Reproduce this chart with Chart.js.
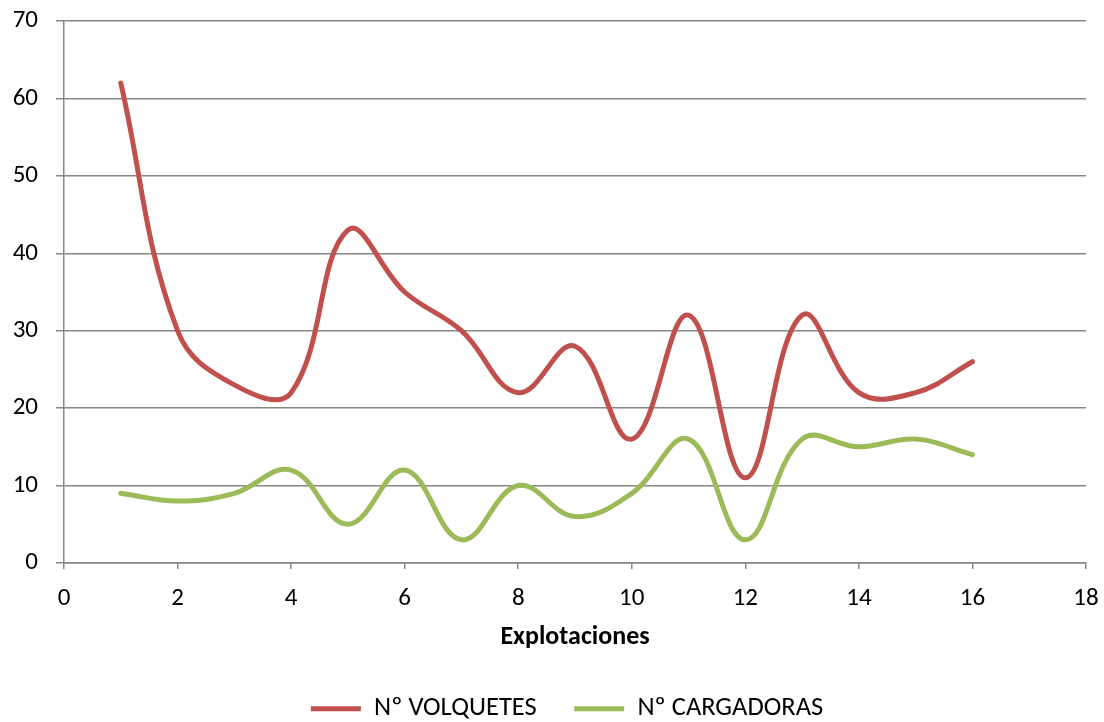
<!DOCTYPE html>
<html>
<head>
<meta charset="utf-8">
<script src="https://cdn.jsdelivr.net/npm/chart.js@4/dist/chart.umd.min.js"></script>
<style>
  html, body { margin: 0; padding: 0; background: #ffffff; }
  #wrap { width: 1104px; height: 722px; }
</style>
</head>
<body>
<div id="wrap"><canvas id="chart" width="1104" height="722"></canvas></div>
<script>
// Number of the explotación (x) and machinery counts per site
const explotaciones = [1, 2, 3, 4, 5, 6, 7, 8, 9, 10, 11, 12, 13, 14, 15, 16];
const volquetes     = [62, 30, 23, 22, 43, 35, 30, 22, 28, 16, 32, 11, 32, 22, 22, 26];
const cargadoras    = [9, 8, 9, 12, 5, 12, 3, 10, 6, 9, 16, 3, 16, 15, 16, 14];

const seriesNames = ['Nº VOLQUETES', 'Nº CARGADORAS'];
const xTitle = 'Explotaciones';
const xRange = [0, 18];
const yRange = [0, 70];

const FONT = 'Carlito, Calibri, Lato, "Open Sans", sans-serif';
const GRID = '#868686';
const RED = '#C0504D';
const GREEN = '#9BBB59';

const toPoints = (vals) => explotaciones.map((x, i) => ({ x: x, y: vals[i] }));

Chart.defaults.font.family = FONT;
Chart.defaults.color = '#000000';

// Fixed-height legend row, nudged a little right of the canvas centre
const legendBox = {
  id: 'legendBox',
  beforeLayout(chart) {
    const lg = chart.legend;
    if (lg && !lg._fixedFit) {
      const fit = lg.fit.bind(lg);
      lg.fit = function () { fit(); this.height = 64; };
      lg._fixedFit = true;
    }
  },
  afterLayout(chart) {
    const lg = chart.legend;
    if (lg) { lg.left += 24; lg.right += 24; }
  }
};

new Chart(document.getElementById('chart'), {
  type: 'line',
  data: {
    datasets: [
      {
        label: seriesNames[0],
        data: toPoints(volquetes),
        borderColor: RED,
        backgroundColor: RED,
        borderWidth: 5,
        pointRadius: 0,
        tension: 0.4,
        borderCapStyle: 'round',
        borderJoinStyle: 'round'
      },
      {
        label: seriesNames[1],
        data: toPoints(cargadoras),
        borderColor: GREEN,
        backgroundColor: GREEN,
        borderWidth: 5,
        pointRadius: 0,
        tension: 0.4,
        borderCapStyle: 'round',
        borderJoinStyle: 'round'
      }
    ]
  },
  plugins: [legendBox],
  options: {
    responsive: false,
    animation: false,
    layout: { padding: { left: 0, right: 18, top: 21, bottom: 0 } },
    plugins: {
      tooltip: { enabled: false },
      legend: {
        position: 'bottom',
        labels: {
          boxWidth: 50,
          boxHeight: 5,
          padding: 37.5,
          font: { size: 26.5 },
          color: '#000000',
          generateLabels(chart) {
            return chart.data.datasets.map((ds, i) => ({
              text: ds.label,
              fillStyle: ds.borderColor,
              strokeStyle: ds.borderColor,
              lineWidth: 0,
              hidden: false,
              datasetIndex: i
            }));
          }
        }
      }
    },
    scales: {
      x: {
        type: 'linear',
        min: xRange[0],
        max: xRange[1],
        ticks: { stepSize: 2, font: { size: 25 }, color: '#000000', padding: 15 },
        grid: { drawOnChartArea: false, drawTicks: true, tickLength: 6, color: GRID, lineWidth: 1.5 },
        border: { display: true, color: GRID, width: 1.5 },
        title: {
          display: true,
          text: xTitle,
          font: { size: 26, weight: 'bold' },
          color: '#000000',
          padding: { top: 0, bottom: 5 }
        },
        afterFit(scale) {
          scale.height = 95;
          scale.paddingLeft = 0;
          scale.paddingRight = 0;
        }
      },
      y: {
        min: yRange[0],
        max: yRange[1],
        ticks: { stepSize: 10, font: { size: 25 }, color: '#000000', padding: 18 },
        grid: { color: GRID, lineWidth: 1.5, tickLength: 8, drawTicks: true },
        border: { display: true, color: GRID, width: 1.5 },
        afterFit(scale) {
          scale.width = 64;
          scale.paddingTop = 0;
          scale.paddingBottom = 0;
        }
      }
    }
  }
});
</script>
</body>
</html>
